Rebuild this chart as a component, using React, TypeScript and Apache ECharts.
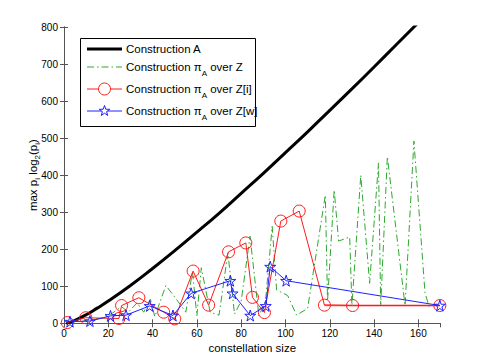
import React, { useEffect, useRef } from "react";
import * as echarts from "echarts";

const blackX = [1, 2, 5, 10, 15, 20, 30, 40, 50, 60, 70, 80, 90, 100, 110, 120, 130, 140, 150, 160];
const blackY = [0, 1.4, 8, 23, 41, 60, 102, 148, 196, 246, 297, 351, 405, 461, 517, 575, 633, 692, 752, 812];

const greenX = [8, 12, 18, 22, 26, 29, 33, 36, 39, 41, 46, 52, 55, 58, 60, 62, 66, 70, 74, 77, 80, 84, 88, 91, 94, 96, 101, 105, 110, 118, 119, 122, 124, 129, 130, 134, 138, 142, 143, 146, 154, 158, 163, 165];
const greenY = [5, 10, 14, 28, 45, 30, 55, 30, 65, 18, 102, 55, 30, 140, 20, 150, 30, 22, 190, 25, 60, 235, 20, 60, 262, 90, 75, 22, 40, 346, 60, 360, 222, 233, 48, 400, 108, 433, 48, 450, 48, 492, 82, 42];

const redX = [1.5, 9.8, 24.8, 26, 33.8, 45, 50, 58.3, 65.3, 74.3, 82.1, 85.1, 90.5, 97.9, 106.2, 117.6, 130.3, 169.7];
const redY = [2, 15, 13, 48, 69, 30, 12, 141, 49, 193, 217, 70, 29, 276, 303, 49, 48, 48];

const blueX = [2.7, 11.7, 21, 28, 38.7, 49.2, 57.4, 75.1, 76.1, 84.1, 91.1, 93.1, 100.3, 169.7];
const blueY = [4.5, 6, 20, 22, 47, 21, 81, 115, 81, 21, 47, 153, 115, 48];

const legendLabels = [
  "Construction A",
  "Construction π{sub|A} over Z",
  "Construction π{sub|A} over Z[i]",
  "Construction π{sub|A} over Z[w]",
];

const STAR = "path://M50,0 L61,35 L98,35 L68,57 L79,91 L50,70 L21,91 L32,57 L2,35 L39,35 Z";
const FONT = "Liberation Sans, Arial, Helvetica, sans-serif";
const BLUE = "#2020ff";
const RED = "#ff1a1a";
const GREEN = "#2ea82e";

function zip(xs: number[], ys: number[]) {
  return xs.map((x, i) => [x, ys[i]]);
}

function starPoints(cx: number, cy: number, r: number) {
  const pts: number[][] = [];
  for (let i = 0; i < 10; i++) {
    const rr = i % 2 === 0 ? r : r * 0.4;
    const a = -Math.PI / 2 + (i * Math.PI) / 5;
    pts.push([cx + rr * Math.cos(a), cy + rr * Math.sin(a)]);
  }
  return pts;
}

export default function App() {
  const ref = useRef<HTMLDivElement>(null);
  useEffect(() => {
    const chart = echarts.init(ref.current!, null, { renderer: "svg" });
    const axisLine = { show: true, lineStyle: { color: "#555", width: 1 } };
    const sub = { fontSize: 8, verticalAlign: "bottom", lineHeight: 20, fontFamily: FONT, fill: "#000" };
    const lx1 = 87, lx2 = 122, lmid = 104.5, tx = 126;
    const rows = [49, 67, 89, 111];
    const textEls = legendLabels.map((t, i) => ({
      type: "text",
      x: tx,
      y: rows[i],
      style: {
        text: t,
        fontSize: 11.5,
        fontFamily: FONT,
        fill: "#000",
        verticalAlign: "middle",
        lineHeight: 20,
        rich: { sub },
      },
      z: 102,
    }));
    const redTail = zip(redX.slice(-3), redY.slice(-3));
    chart.setOption({
      animation: false,
      backgroundColor: "#fff",
      grid: { left: 64, right: 44.5, top: 27, bottom: 40.7, containLabel: false },
      xAxis: [
        {
          type: "value",
          min: 0,
          max: 170,
          interval: 20,
          name: "constellation size",
          nameLocation: "middle",
          nameGap: 19,
          nameMoveOverlap: false,
          nameTextStyle: { fontSize: 11.5, fontFamily: FONT, color: "#000" },
          axisLine,
          axisTick: { show: true, inside: true, length: 4, lineStyle: { color: "#555" } },
          axisLabel: { fontSize: 10, fontFamily: FONT, color: "#000", margin: 5, showMaxLabel: false },
          splitLine: { show: false },
        },
        {
          type: "value",
          position: "top",
          min: 0,
          max: 170,
          interval: 20,
          axisLine,
          axisTick: { show: true, inside: true, length: 4, lineStyle: { color: "#555" } },
          axisLabel: { show: false },
          splitLine: { show: false },
        },
      ],
      yAxis: [
        {
          type: "value",
          min: 0,
          max: 800,
          interval: 100,
          name: "max p{s|i} log{s|2}(p{s|i})",
          nameLocation: "middle",
          nameGap: 23,
          nameMoveOverlap: false,
          nameTextStyle: {
            fontSize: 11.5,
            fontFamily: FONT,
            color: "#000",
            lineHeight: 16,
            rich: { s: { fontSize: 8, verticalAlign: "bottom", lineHeight: 16, fontFamily: FONT, color: "#000" } },
          },
          axisLine,
          axisTick: { show: true, inside: true, length: 4, lineStyle: { color: "#555" } },
          axisLabel: { fontSize: 10, fontFamily: FONT, color: "#000", margin: 6 },
          splitLine: { show: false },
        },
        {
          type: "value",
          position: "right",
          min: 0,
          max: 800,
          interval: 100,
          axisLine,
          axisTick: { show: true, inside: true, length: 4, lineStyle: { color: "#555" } },
          axisLabel: { show: false },
          splitLine: { show: false },
        },
      ],
      series: [
        {
          type: "line",
          data: zip(blackX, blackY),
          smooth: true,
          showSymbol: false,
          symbol: "none",
          clip: true,
          lineStyle: { color: "#000", width: 3 },
          z: 2,
        },
        {
          type: "line",
          data: zip(greenX, greenY),
          symbol: "none",
          clip: true,
          lineStyle: { color: GREEN, width: 1, type: [7, 3, 1.5, 3] },
          z: 3,
        },
        {
          type: "line",
          data: redTail.slice(0),
          symbol: "none",
          clip: false,
          lineStyle: { color: "#ff8c8c", width: 2.2 },
          z: 4,
        },
        {
          type: "line",
          data: zip(redX, redY),
          symbol: "circle",
          symbolSize: 12,
          clip: false,
          lineStyle: { color: RED, width: 1 },
          itemStyle: { color: "transparent", borderColor: RED, borderWidth: 1 },
          z: 4,
        },
        {
          type: "line",
          data: zip(blueX, blueY),
          symbol: STAR,
          symbolSize: 11,
          clip: false,
          lineStyle: { color: BLUE, width: 1 },
          itemStyle: { color: "transparent", borderColor: BLUE, borderWidth: 1 },
          z: 5,
        },
      ],
      graphic: [
        {
          type: "rect",
          shape: { x: 80.5, y: 38.5, width: 175, height: 88 },
          style: { fill: "#fff", stroke: "#000", lineWidth: 1 },
          z: 100,
        },
        { type: "line", shape: { x1: lx1, y1: rows[0], x2: lx2, y2: rows[0] }, style: { stroke: "#000", lineWidth: 3 }, z: 101 },
        { type: "line", shape: { x1: lx1, y1: rows[1], x2: lx2, y2: rows[1] }, style: { stroke: GREEN, lineWidth: 1, lineDash: [7, 3, 1.5, 3] }, z: 101 },
        { type: "line", shape: { x1: lx1, y1: rows[2], x2: lx2, y2: rows[2] }, style: { stroke: RED, lineWidth: 1 }, z: 101 },
        { type: "circle", shape: { cx: lmid, cy: rows[2], r: 6 }, style: { fill: "#fff", stroke: RED, lineWidth: 1 }, z: 102 },
        { type: "line", shape: { x1: lx1, y1: rows[3], x2: lx2, y2: rows[3] }, style: { stroke: BLUE, lineWidth: 1 }, z: 101 },
        { type: "polygon", shape: { points: starPoints(lmid, rows[3], 5.5) }, style: { fill: "#fff", stroke: BLUE, lineWidth: 1 }, z: 102 },
        ...textEls,
      ],
    });
    return () => chart.dispose();
  }, []);
  return (
    <div
      ref={ref}
      style={{ position: "fixed", left: 0, top: 0, width: 485, height: 364, background: "#fff" }}
    />
  );
}
